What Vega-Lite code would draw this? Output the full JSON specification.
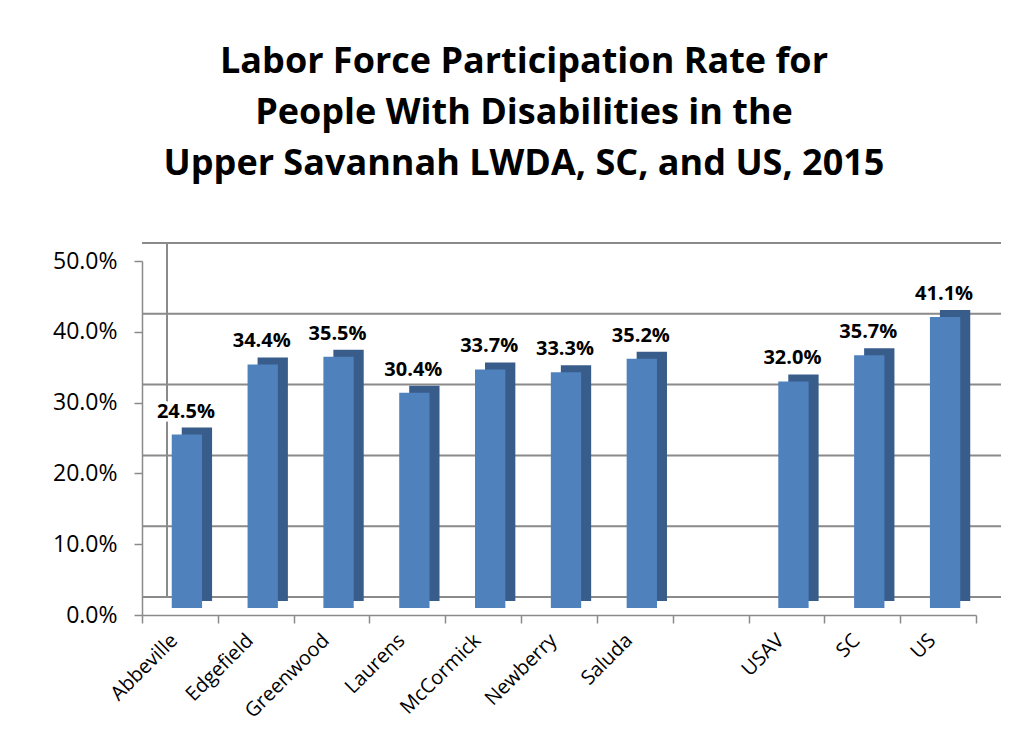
{
  "$schema": "https://vega.github.io/schema/vega-lite/v6.json",
  "width": 834,
  "height": 354,
  "autosize": {"type": "none"},
  "padding": {"left": 142, "top": 261, "right": 48, "bottom": 138},
  "background": "white",
  "title": {
    "text": ["Labor Force Participation Rate for", "People With Disabilities in the", "Upper Savannah LWDA, SC, and US, 2015"],
    "font": "Open Sans",
    "fontSize": 36,
    "fontWeight": "bold",
    "color": "black",
    "lineHeight": 51,
    "anchor": "middle",
    "dx": -35,
    "offset": 59
  },
  "config": {
    "view": {"stroke": null},
    "axis": {"grid": false}
  },
  "datasets": {
    "bars": [
      {"area": "Abbeville", "rate": 0.245},
      {"area": "Edgefield", "rate": 0.344},
      {"area": "Greenwood", "rate": 0.355},
      {"area": "Laurens", "rate": 0.304},
      {"area": "McCormick", "rate": 0.337},
      {"area": "Newberry", "rate": 0.333},
      {"area": "Saluda", "rate": 0.352},
      {"area": "USAV", "rate": 0.32},
      {"area": "SC", "rate": 0.357},
      {"area": "US", "rate": 0.411}
    ],
    "grid": [{"g": 0}, {"g": 0.1}, {"g": 0.2}, {"g": 0.3}, {"g": 0.4}, {"g": 0.5}],
    "wall": [{"corner": "Abbeville", "lo": 0, "hi": 0.5}]
  },
  "layer": [
    {
      "data": {"name": "grid"},
      "mark": {"type": "rule", "color": "#8a8a8a", "strokeWidth": 2, "xOffset": 25, "x2Offset": 25, "yOffset": -18},
      "encoding": {
        "y": {
          "field": "g", "type": "quantitative",
          "scale": {"domain": [0, 0.5]},
          "axis": {
            "values": [0, 0.1, 0.2, 0.3, 0.4, 0.5],
            "format": ".1%",
            "title": null,
            "labelFont": "Open Sans",
            "labelFontSize": 23,
            "labelColor": "black",
            "labelPadding": 17,
            "tickSize": 8,
            "tickColor": "#8a8a8a",
            "tickWidth": 1.5,
            "domainColor": "#8a8a8a",
            "domainWidth": 1.5
          }
        }
      }
    },
    {
      "data": {"name": "wall"},
      "mark": {"type": "rule", "color": "#8a8a8a", "strokeWidth": 2, "xOffset": 25, "yOffset": -18, "y2Offset": -18},
      "encoding": {
        "x": {"field": "corner", "type": "nominal", "bandPosition": 0},
        "y": {"field": "lo", "type": "quantitative"},
        "y2": {"field": "hi"}
      }
    },
    {
      "data": {"name": "bars"},
      "mark": {"type": "bar", "color": "#385D8A", "width": {"band": 0.4}, "xOffset": 17, "x2Offset": 17, "yOffset": -14, "y2Offset": -14},
      "encoding": {
        "x": {
          "field": "area", "type": "nominal", "sort": null,
          "scale": {"domain": ["Abbeville", "Edgefield", "Greenwood", "Laurens", "McCormick", "Newberry", "Saluda", " ", "USAV", "SC", "US"], "paddingInner": 0, "paddingOuter": 0},
          "axis": {
            "title": null,
            "labelAngle": -45,
            "labelFont": "Open Sans",
            "labelFontSize": 20,
            "labelColor": "black",
            "labelPadding": 14,
            "labelOffset": -6,
            "tickBand": "extent",
            "tickSize": 8,
            "tickColor": "#8a8a8a",
            "tickWidth": 1.5,
            "domainColor": "#8a8a8a",
            "domainWidth": 1.5
          }
        },
        "y": {"field": "rate", "type": "quantitative"}
      }
    },
    {
      "data": {"name": "bars"},
      "mark": {"type": "bar", "color": "#4F81BD", "width": {"band": 0.4}, "xOffset": 7, "x2Offset": 7, "yOffset": -7, "y2Offset": -7},
      "encoding": {
        "x": {"field": "area", "type": "nominal", "sort": null},
        "y": {"field": "rate", "type": "quantitative"}
      }
    },
    {
      "data": {"name": "bars"},
      "mark": {"type": "text", "font": "Open Sans", "fontSize": 20, "fontWeight": "bold", "color": "white", "stroke": "white", "strokeWidth": 7, "xOffset": 6, "dy": -24, "baseline": "alphabetic"},
      "encoding": {
        "x": {"field": "area", "type": "nominal", "sort": null},
        "y": {"field": "rate", "type": "quantitative"},
        "text": {"field": "rate", "type": "quantitative", "format": ".1%"}
      }
    },
    {
      "data": {"name": "bars"},
      "mark": {"type": "text", "font": "Open Sans", "fontSize": 20, "fontWeight": "bold", "color": "black", "xOffset": 6, "dy": -24, "baseline": "alphabetic"},
      "encoding": {
        "x": {"field": "area", "type": "nominal", "sort": null},
        "y": {"field": "rate", "type": "quantitative"},
        "text": {"field": "rate", "type": "quantitative", "format": ".1%"}
      }
    }
  ]
}
